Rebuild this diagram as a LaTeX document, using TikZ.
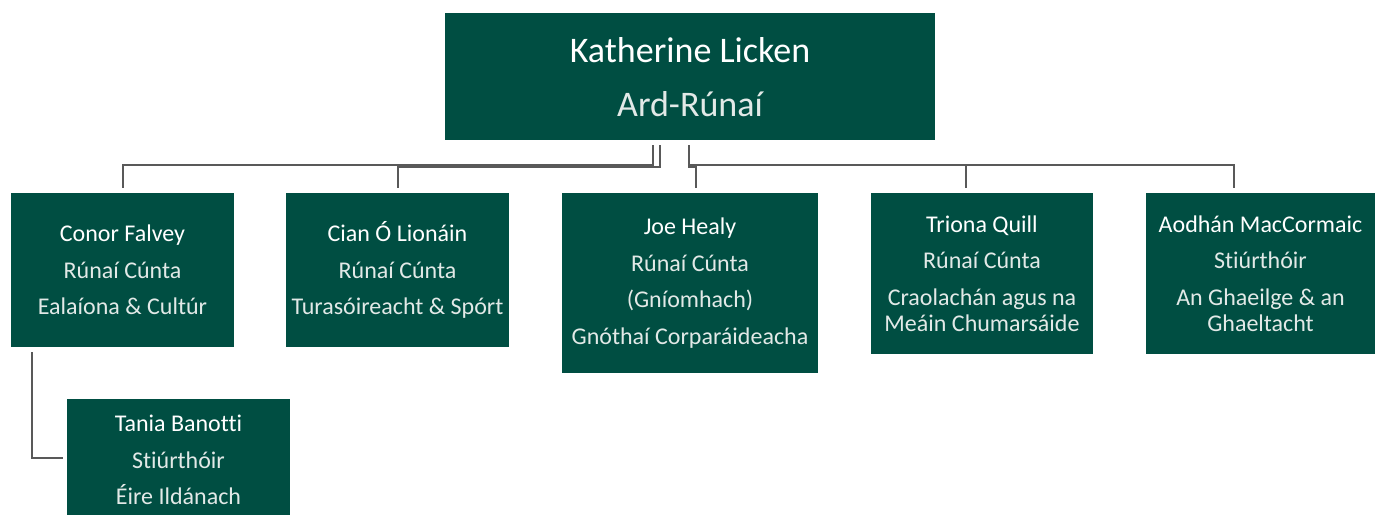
\documentclass[tikz,border=0pt]{standalone}
\usepackage{fontspec}
\setmainfont{Carlito}[Ligatures=NoCommon]
\usepackage{tikz}
\definecolor{boardgreen}{HTML}{004E42}
\definecolor{linkgrey}{HTML}{595959}
\definecolor{softwhite}{HTML}{E2E9E7}
\tikzset{%
  % Specifications for style of nodes:
      base/.style = {rectangle, fill=boardgreen, inner sep=0pt, text=white,
                     align=center, anchor=north},
      head/.style = {base, minimum width=490pt, minimum height=127pt,
                     font=\fontsize{36}{36}\selectfont},
       box/.style = {base, minimum width=223pt, minimum height=154pt,
                     font=\fontsize{24}{26}\selectfont},
      link/.style = {draw=linkgrey, line width=2pt}
}
\newcommand{\role}[1]{{\color{softwhite}#1}}

\begin{document}
\begin{tikzpicture}[x=1pt, y=1pt]
  \useasboundingbox (0,0) rectangle (1375,-514);
  % Specification of nodes (position, etc.)
  \node (kl)     [head] at (690,-13)  {Katherine Licken\\[18pt]\role{Ard-Rúnaí}};

  \node (conor)  [box] at (122.5,-193)  {Conor Falvey\\[10.5pt]\role{Rúnaí Cúnta}\\[10.5pt]\role{Ealaíona \& Cultúr}};
  \node (cian)   [box] at (397.5,-193)  {Cian Ó Lionáin\\[10.5pt]\role{Rúnaí Cúnta}\\[10.5pt]\role{Turasóireacht \& Spórt}};
  \node (joe)    [box, minimum width=256pt, minimum height=180pt] at (690,-193)
                 {Joe Healy\\[10.5pt]\role{Rúnaí Cúnta}\\[10.5pt]\role{(Gníomhach)}\\[10.5pt]\role{Gnóthaí Corparáideacha}};
  \node (triona) [box, minimum width=222pt, minimum height=161pt] at (982,-193)
                 {Triona Quill\\[10.5pt]\role{Rúnaí Cúnta}\\[10.5pt]\role{Craolachán agus na}\\\role{Meáin Chumarsáide}};
  \node (aodhan) [box, minimum width=229pt, minimum height=161pt] at (1260.5,-193)
                 {Aodhán MacCormaic\\[10.5pt]\role{Stiúrthóir}\\[10.5pt]\role{An Ghaeilge \& an}\\\role{Ghaeltacht}};

  \node (tania)  [box, minimum height=122pt] at (178.5,-399)
                 {Tania Banotti\\[10.5pt]\role{Stiúrthóir}\\[10.5pt]\role{Éire Ildánach}};

  % Connectors
  \draw[link] ([xshift=-37pt,yshift=-5pt]kl.south) -- ++(0,-20) -| ([yshift=5pt]conor.north);
  \draw[link] ([xshift=-30pt,yshift=-5pt]kl.south) -- ++(0,-22) -| ([yshift=5pt]cian.north);
  \draw[link] ([xshift=-1pt,yshift=-5pt]kl.south) -- ++(0,-22) -| ([xshift=6pt,yshift=5pt]joe.north);
  \draw[link] ([xshift=-1pt,yshift=-5pt]kl.south) -- ++(0,-20) -| ([xshift=-16pt,yshift=5pt]triona.north);
  \draw[link] ([xshift=-1pt,yshift=-5pt]kl.south) -- ++(0,-20) -| ([xshift=-27pt,yshift=5pt]aodhan.north);

  \draw[link] ([xshift=21pt,yshift=-5pt]conor.south west) |- ([xshift=-4pt,yshift=2pt]tania.west);
\end{tikzpicture}
\end{document}
